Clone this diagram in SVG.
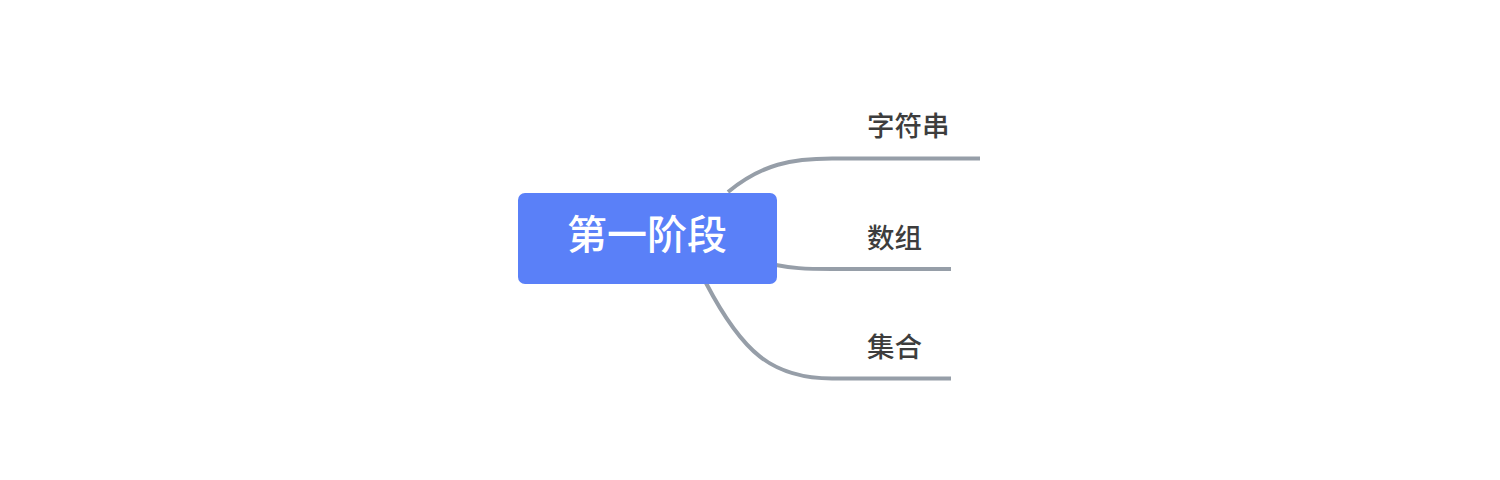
<svg xmlns="http://www.w3.org/2000/svg" width="1500" height="480" viewBox="0 0 1500 480">
<style>
.conn{fill:none;stroke:#969ea8;stroke-width:4;stroke-linecap:butt}
.lbl{font-family:"Noto Sans CJK SC","Noto Sans",sans-serif;font-size:27.5px;font-weight:500;fill:#3d3d3d;dominant-baseline:central}
.root{font-family:"Noto Sans CJK SC","Noto Sans",sans-serif;font-size:40px;font-weight:500;fill:#ffffff;dominant-baseline:central;text-anchor:middle}
</style>
<rect width="1500" height="480" fill="#ffffff"/>
<g id="connectors">
<path class="conn" d="M728,192 C762,164 792,158.5 832,158.5 L980,158.5"/>
<path class="conn" d="M776,265 C792,268 802,269 832,269 L951,269"/>
<path class="conn" d="M706,283 C742,352 772,378.5 832,378.5 L951,378.5"/>
</g>
<g id="root">
<rect x="518" y="193" width="259" height="91" rx="7" fill="#5a80f8"/>
<text class="root" x="647" y="232">第一阶段</text>
</g>
<g id="n1"><text class="lbl" x="867" y="124">字符串</text></g>
<g id="n2"><text class="lbl" x="867" y="236">数组</text></g>
<g id="n3"><text class="lbl" x="867" y="345">集合</text></g>
</svg>
